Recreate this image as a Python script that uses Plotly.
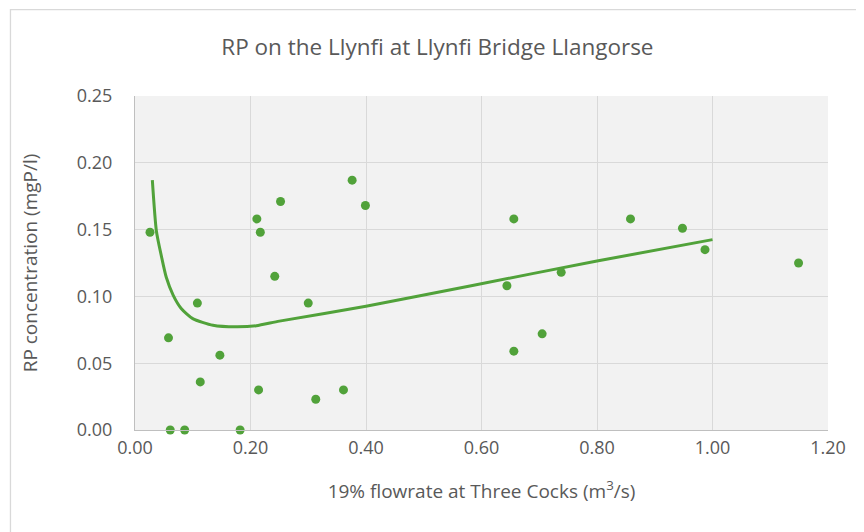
import plotly.graph_objects as go

# Observed samples
flow = [0.026, 0.058, 0.061, 0.086, 0.108, 0.113, 0.147, 0.182, 0.211, 0.217,
        0.214, 0.242, 0.252, 0.300, 0.313, 0.361, 0.376, 0.399,
        0.656, 0.644, 0.738, 0.705, 0.656, 0.858, 0.948, 0.987, 1.149]
rp = [0.148, 0.069, 0.000, 0.000, 0.095, 0.036, 0.056, 0.000, 0.158, 0.148,
      0.030, 0.115, 0.171, 0.095, 0.023, 0.030, 0.187, 0.168,
      0.158, 0.108, 0.118, 0.072, 0.059, 0.158, 0.151, 0.135, 0.125]

# Fitted curve
fit_x = [0.030, 0.037, 0.046, 0.054, 0.066, 0.080, 0.100, 0.135, 0.175, 0.210,
         0.250, 0.400, 0.580, 0.800, 1.000]
fit_y = [0.187, 0.149, 0.1295, 0.1145, 0.101, 0.091, 0.0834, 0.0784, 0.0772, 0.0780,
         0.0815, 0.0926, 0.1078, 0.1265, 0.1425]

x_ticks = [0.0, 0.2, 0.4, 0.6, 0.8, 1.0, 1.2]
y_ticks = [0.0, 0.05, 0.10, 0.15, 0.20, 0.25]

GREEN = "#51a23a"
TXT = "#595959"
FONT = "Open Sans"

fig = go.Figure()
fig.add_trace(go.Scatter(x=fit_x, y=fit_y, mode="lines",
                         line=dict(color=GREEN, width=3, shape="spline", smoothing=0.6),
                         hoverinfo="skip", showlegend=False, cliponaxis=False))
fig.add_trace(go.Scatter(x=flow, y=rp, mode="markers",
                         marker=dict(color=GREEN, size=9, line=dict(width=0)),
                         showlegend=False, cliponaxis=False))

fig.update_layout(
    width=864, height=532,
    margin=dict(l=127, r=44, t=88, b=110, autoexpand=False),
    paper_bgcolor="white", plot_bgcolor="#f2f2f2",
    font=dict(family=FONT, color=TXT, size=18),
    title=dict(text="RP on the Llynfi at Llynfi Bridge Llangorse",
               x=0.497, xanchor="center", y=1 - 39 / 532, yanchor="middle",
               font=dict(family=FONT, size=22.5, color=TXT)),
    xaxis=dict(range=[0, 1.2], tickvals=x_ticks, tickformat=".2f",
               showgrid=True, gridcolor="#d9d9d9", gridwidth=1.3,
               showline=True, linecolor="#bfbfbf", linewidth=1.3,
               zeroline=False, ticks="", ticklabelstandoff=1,
               title=dict(text="19% flowrate at Three Cocks (m<sup>3</sup>/s)",
                          font=dict(size=19, color=TXT), standoff=26)),
    yaxis=dict(range=[0, 0.25], tickvals=y_ticks, tickformat=".2f",
               showgrid=True, gridcolor="#d9d9d9", gridwidth=1.3,
               showline=True, linecolor="#bfbfbf", linewidth=1.3,
               zeroline=False, ticks="", ticklabelstandoff=18,
               title=dict(text="RP concentration (mgP/l)",
                          font=dict(size=19, color=TXT), standoff=33)),
    shapes=[dict(type="path", xref="paper", yref="paper",
                 path="M -0.1797,-0.6 L -0.1797,1.2586 L 1.3,1.2586",
                 line=dict(color="#d9d9d9", width=1.3), layer="below")],
)

fig.write_html("out.html")
